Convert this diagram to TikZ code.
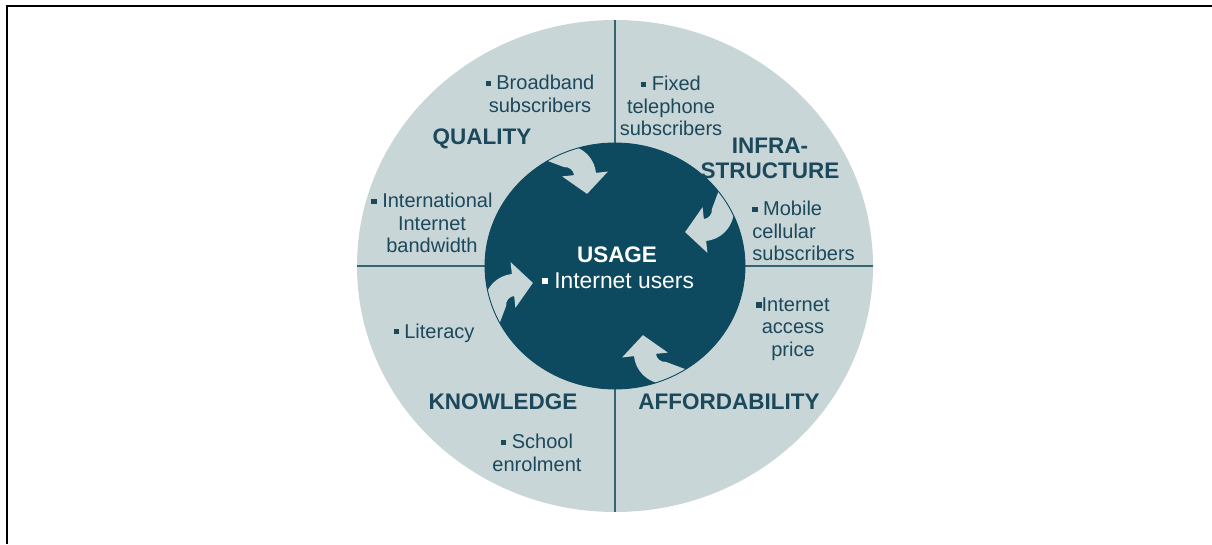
\documentclass[tikz,border=0pt]{standalone}
\usepackage{fontspec}
\setmainfont{Liberation Sans}

\definecolor{ringfill}{RGB}{201,214,215}
\definecolor{corefill}{RGB}{13,74,95}
\definecolor{inktext}{RGB}{28,72,92}
\definecolor{splitline}{RGB}{55,100,115}
\newcommand{\sqb}{\rule[0.19em]{0.26em}{0.26em}}

\begin{document}
\begin{tikzpicture}[x=0.02cm,y=0.02cm,
  catlabel/.style={text=inktext,font=\fontsize{12.8}{14.2}\selectfont\bfseries,align=center,inner sep=0pt},
  entry/.style={text=inktext,font=\fontsize{11.4}{12.8}\selectfont,align=center,inner sep=0pt},
  usage arrow/.pic={
    \fill[ringfill] (0,-11) -- (0,-23) -- (20,0) -- (0,23) -- (0,11)
      arc[start angle=90,end angle=180,radius=31] -- ++(-14,-28) -- ++(22,0)
      -- (-9,-20) arc[start angle=180,end angle=90,radius=9] -- cycle;
  }]
\useasboundingbox (-615,-278) rectangle (597,266);

% frame
\draw[line width=1.3pt] (-608,-278) -- (-608,260) -- (597,260);

% outer ring and quarters
\fill[ringfill] (0,0) ellipse [x radius=258, y radius=246];
\draw[splitline, line width=1.1pt] (0,246) -- (0,-246);
\draw[splitline, line width=1.1pt] (-258,0) -- (258,0);

% core
\fill[corefill] (0,0) ellipse [x radius=130, y radius=123];
\begin{scope}
\clip (0,0) ellipse [x radius=130, y radius=123];
\pic[rotate=6]   at (-102,-19) {usage arrow};
\pic[rotate=-84] at (-30,92)   {usage arrow};
\pic[rotate=186] at (90,36)    {usage arrow};
\pic[rotate=96]  at (30,-89)   {usage arrow};
\end{scope}
\draw[corefill, line width=0.5pt] (0,0) ellipse [x radius=130, y radius=123];

% centre text
\node[catlabel, text=white] (usage) at (2,11) {USAGE};
\node[entry, text=white, font=\fontsize{13}{15}\selectfont] (users) at (3,-15) {\sqb\ Internet users};

% quality
\node[entry] (broadband) at (-75,172) {\sqb\ Broadband\\subscribers};
\node[catlabel] (quality) at (-133,127) {QUALITY};
\node[entry] (bandwidth) at (-183,43) {\sqb\ International\\Internet\\bandwidth};

% infrastructure
\node[entry] (fixed) at (56,160) {\sqb\ Fixed\\telephone\\subscribers};
\node[catlabel] (infra) at (155,108) {INFRA-\\STRUCTURE};
\node[entry, align=left, anchor=west] (mobile) at (137,35) {\sqb\ Mobile\\cellular\\subscribers};

% knowledge
\node[entry] (literacy) at (-181,-67) {\sqb\ Literacy};
\node[catlabel] (knowledge) at (-112,-136) {KNOWLEDGE};
\node[entry] (school) at (-78,-187) {\sqb\ School\\enrolment};

% affordability
\node[entry] (price) at (178,-63) {\sqb Internet\\access\\price};
\node[catlabel] (afford) at (114,-136) {AFFORDABILITY};
\end{tikzpicture}
\end{document}
